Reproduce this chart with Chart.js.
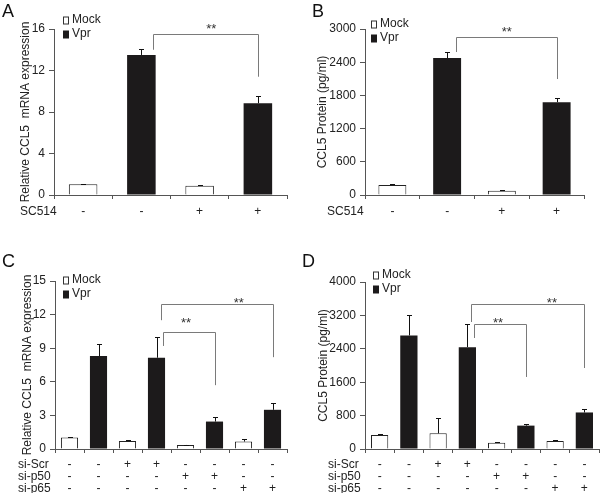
<!DOCTYPE html>
<html>
<head>
<meta charset="utf-8">
<script src="https://cdn.jsdelivr.net/npm/chart.js@4.4.0/dist/chart.umd.min.js"></script>
<style>
  html, body { margin: 0; padding: 0; background: #fff; }
  #wrap { position: relative; width: 600px; height: 493px; }
  canvas { position: absolute; }
</style>
</head>
<body>
<div id="wrap">
  <canvas id="chartA" width="300" height="247" style="left:0;top:0"></canvas>
  <canvas id="chartB" width="300" height="247" style="left:300px;top:0"></canvas>
  <canvas id="chartC" width="300" height="246" style="left:0;top:247px"></canvas>
  <canvas id="chartD" width="300" height="246" style="left:300px;top:247px"></canvas>
</div>
<script>
const seriesNames = ['Mock', 'Vpr'];

// panel A - SC514, relative mRNA
const aSC514 = ['-', '-', '+', '+'];
const aMock = [1.03, null, 0.9, null];
const aVpr = [null, 13.5, null, 8.85];
const aErr = [0.07, 0.55, 0.06, 0.7];
const aTicks = [0, 4, 8, 12, 16];
const aBrackets = [{ from: 1.2, to: 3, top: 15.5, fromEnd: 14.0, toEnd: 11.4, starAt: 2.2, starY: 16.4 }];

// panel B - SC514, protein
const bSC514 = ['-', '-', '+', '+'];
const bMock = [181, null, 78, null];
const bVpr = [null, 2475, null, 1678];
const bErr = [14, 108, 7, 72];
const bTicks = [0, 600, 1200, 1800, 2400, 3000];
const bBrackets = [{ from: 1.16, to: 3, top: 2855, fromEnd: 2584, toEnd: 2096, starAt: 2.09, starY: 3018 }];

// panel C - siRNA, relative mRNA
const cScr = ['-', '-', '+', '+', '-', '-', '-', '-'];
const cP50 = ['-', '-', '-', '-', '+', '+', '-', '-'];
const cP65 = ['-', '-', '-', '-', '-', '-', '+', '+'];
const cMock = [1.03, null, 0.72, null, 0.36, null, 0.66, null];
const cVpr = [null, 8.3, null, 8.15, null, 2.45, null, 3.5];
const cErr = [0.06, 1.05, 0.05, 1.85, 0.04, 0.45, 0.2, 0.65];
const cTicks = [0, 3, 6, 9, 12, 15];
const cBrackets = [
  { from: 3.14, to: 7, top: 12.95, fromEnd: 11.5, toEnd: 8.2, starAt: 5.84, starY: 13.35 },
  { from: 3.24, to: 5, top: 10.45, fromEnd: 9.2, toEnd: 5.7, starAt: 4.02, starY: 11.6 }
];

// panel D - siRNA, protein
const dScr = ['-', '-', '+', '+', '-', '-', '-', '-'];
const dP50 = ['-', '-', '-', '-', '+', '+', '-', '-'];
const dP65 = ['-', '-', '-', '-', '-', '-', '+', '+'];
const dMock = [335, null, 375, null, 150, null, 190, null];
const dVpr = [null, 2720, null, 2440, null, 560, null, 875];
const dErr = [20, 495, 360, 560, 20, 50, 20, 85];
const dTicks = [0, 800, 1600, 2400, 3200, 4000];
const dBrackets = [
  { from: 3.12, to: 7, top: 3473, fromEnd: 3042, toEnd: 1940, starAt: 5.89, starY: 3581 },
  { from: 3.22, to: 5, top: 2994, fromEnd: 2659, toEnd: 1725, starAt: 4.05, starY: 3114 }
];

const FONT = 'Liberation Sans, Arial, Helvetica, sans-serif';
const TEXT = '#222';
const AXIS = '#555';

const extras = {
  id: 'extras',
  afterDatasetsDraw(chart, args, opts) {
    const ctx = chart.ctx;
    const xs = chart.scales.x, ys = chart.scales.y;
    const area = chart.chartArea;
    ctx.save();

    // error bars (upper only)
    ctx.strokeStyle = '#111';
    ctx.lineWidth = 1;
    chart.data.datasets.forEach((ds, di) => {
      const meta = chart.getDatasetMeta(di);
      ds.data.forEach((v, i) => {
        if (v == null) return;
        const px = Math.round(meta.data[i].x) + 0.5;
        const y0 = ys.getPixelForValue(v);
        const y1 = Math.round(ys.getPixelForValue(v + opts.errors[i])) + 0.5;
        ctx.beginPath();
        ctx.moveTo(px, y0);
        ctx.lineTo(px, y1);
        ctx.moveTo(px - 2.5, y1);
        ctx.lineTo(px + 2.5, y1);
        ctx.stroke();
      });
    });

    // significance brackets
    ctx.strokeStyle = '#7a7a7a';
    ctx.fillStyle = '#333';
    ctx.font = '13px ' + FONT;
    ctx.textAlign = 'center';
    ctx.textBaseline = 'alphabetic';
    opts.brackets.forEach(b => {
      const x1 = Math.round(xs.getPixelForValue(b.from)) + 0.5;
      const x2 = Math.round(xs.getPixelForValue(b.to)) + 0.5;
      const yt = Math.round(ys.getPixelForValue(b.top)) + 0.5;
      ctx.beginPath();
      ctx.moveTo(x1, ys.getPixelForValue(b.fromEnd));
      ctx.lineTo(x1, yt);
      ctx.lineTo(x2, yt);
      ctx.lineTo(x2, ys.getPixelForValue(b.toEnd));
      ctx.stroke();
      ctx.fillText('**', xs.getPixelForValue(b.starAt), ys.getPixelForValue(b.starY) + 8);
    });

    // legend
    const lx = area.left + opts.legend.dx;
    ctx.textAlign = 'left';
    ctx.textBaseline = 'middle';
    ctx.font = '12px ' + FONT;
    seriesNames.forEach((name, i) => {
      const ly = area.top + opts.legend.dy + i * 14;
      if (i === 0) {
        ctx.fillStyle = '#fff';
        ctx.fillRect(lx, ly - 3.5, 5, 7);
        ctx.strokeStyle = '#333';
        ctx.strokeRect(lx + 0.5, ly - 3, 5, 7);
      } else {
        ctx.fillStyle = '#1c1a1b';
        ctx.fillRect(lx, ly - 3.5, 6, 8);
      }
      ctx.fillStyle = TEXT;
      ctx.fillText(name, lx + 9, ly);
    });

    // row names under the x axis
    const xo = xs.options;
    const lh = 12;
    opts.rows.forEach((name, i) => {
      const ry = xs.top + xo.grid.tickLength + xo.ticks.padding + lh * (i + 0.5);
      ctx.fillText(name, opts.rowX, ry);
    });

    // panel letter
    ctx.font = '18px ' + FONT;
    ctx.textBaseline = 'top';
    ctx.fillStyle = '#111';
    ctx.fillText(opts.letter, opts.letterPos[0], opts.letterPos[1]);
    ctx.restore();
  }
};

function makeChart(id, p) {
  const cats = p.mock.map((_, i) => String(i));
  return new Chart(document.getElementById(id), {
    type: 'bar',
    data: {
      labels: cats,
      datasets: [
        { label: seriesNames[0], data: p.mock, backgroundColor: '#fff', borderColor: '#222', borderWidth: 1 },
        { label: seriesNames[1], data: p.vpr, backgroundColor: '#1c1a1b', borderColor: '#1c1a1b', borderWidth: 0 }
      ]
    },
    options: {
      responsive: false,
      animation: false,
      devicePixelRatio: 1,
      grouped: false,
      barPercentage: p.barPct,
      categoryPercentage: 1,
      layout: { padding: { top: p.top, right: p.right, left: 0, bottom: 0 } },
      plugins: {
        legend: { display: false },
        tooltip: { enabled: false },
        extras: {
          errors: p.err, brackets: p.brackets, rows: p.rowNames, rowX: p.rowX,
          legend: p.legend, letter: p.letter, letterPos: p.letterPos
        }
      },
      scales: {
        x: {
          offset: true,
          border: { color: AXIS, width: 1 },
          grid: { display: true, drawOnChartArea: false, drawTicks: true, tickLength: 4, color: AXIS, offset: true },
          ticks: {
            color: TEXT, padding: p.tickPad, maxRotation: 0, autoSkip: false,
            font: { family: FONT, size: 12, lineHeight: 1 },
            callback: (v, i) => p.rows.map(r => r[i])
          },
          afterFit: s => { s.height = p.xHeight; }
        },
        y: {
          min: 0,
          max: p.ticks[p.ticks.length - 1],
          afterBuildTicks: s => { s.ticks = p.ticks.map(v => ({ value: v })); },
          border: { color: AXIS, width: 1 },
          grid: { display: true, drawOnChartArea: false, drawTicks: true, tickLength: 5, color: AXIS },
          ticks: { color: TEXT, padding: 4, font: { family: FONT, size: 12 }, callback: v => String(v) },
          title: { display: true, text: p.yTitle, color: TEXT, font: { family: FONT, size: 12 }, padding: { top: p.titlePad, bottom: 0 } },
          afterFit: s => { s.width = p.yWidth; }
        }
      }
    },
    plugins: [extras]
  });
}

makeChart('chartA', {
  mock: aMock, vpr: aVpr, err: aErr, ticks: aTicks, brackets: aBrackets,
  rows: [aSC514], rowNames: ['SC514'], rowX: 20, tickPad: 7,
  yTitle: 'Relative CCL5  mRNA expression', titlePad: 18,
  barPct: 0.49, top: 29, right: 13, xHeight: 52, yWidth: 54,
  legend: { dx: 9, dy: -9 }, letter: 'A', letterPos: [2, 3]
});
makeChart('chartB', {
  mock: bMock, vpr: bVpr, err: bErr, ticks: bTicks, brackets: bBrackets,
  rows: [bSC514], rowNames: ['SC514'], rowX: 27, tickPad: 7,
  yTitle: 'CCL5 Protein (pg/ml)', titlePad: 15,
  barPct: 0.51, top: 29, right: 16, xHeight: 52, yWidth: 65,
  legend: { dx: 6, dy: -5 }, letter: 'B', letterPos: [12, 3]
});
makeChart('chartC', {
  mock: cMock, vpr: cVpr, err: cErr, ticks: cTicks, brackets: cBrackets,
  rows: [cScr, cP50, cP65], rowNames: ['si-Scr', 'si-p50', 'si-p65'], rowX: 18, tickPad: 6,
  yTitle: 'Relative CCL5  mRNA expression', titlePad: 20,
  barPct: 0.59, top: 34, right: 13, xHeight: 44, yWidth: 55,
  legend: { dx: 8, dy: -1 }, letter: 'C', letterPos: [2, 6]
});
makeChart('chartD', {
  mock: dMock, vpr: dVpr, err: dErr, ticks: dTicks, brackets: dBrackets,
  rows: [dScr, dP50, dP65], rowNames: ['si-Scr', 'si-p50', 'si-p65'], rowX: 28, tickPad: 6,
  yTitle: 'CCL5 Protein (pg/ml)', titlePad: 16,
  barPct: 0.59, top: 35, right: 1, xHeight: 44, yWidth: 65,
  legend: { dx: 8, dy: -7 }, letter: 'D', letterPos: [2, 6]
});
</script>
</body>
</html>
